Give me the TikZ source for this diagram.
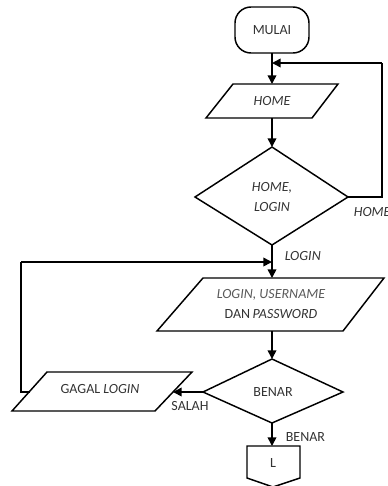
\documentclass[tikz,border=0pt]{standalone}
\usepackage{fontspec}
\setmainfont{Carlito}
\usetikzlibrary{arrows.meta}
\begin{document}
\begin{tikzpicture}[x=0.75pt,y=-0.75pt, line width=1.2pt,
  conn/.style={-{Triangle[length=6.5pt,width=6.5pt]}},
  shp/.style={draw, line width=1.1pt, line join=miter},
  lbl/.style={font=\fontsize{10.5}{12.5}\selectfont, text=black!80, inner sep=0pt, align=center}]
\useasboundingbox (0,0) rectangle (387,486);
% MULAI
\draw[shp, rounded corners=12pt] (235,7) rectangle (309,53);
\node[lbl] (mulai) at (272,30) {MULAI};
\coordinate (mulaiB) at (272,53);
% HOME parallelogram
\draw[shp] (233,84) -- (338,84) -- (312,118) -- (206,118) -- cycle;
\node[lbl] (home) at (272,101) {\itshape HOME};
\coordinate (homeT) at (272,84);
\coordinate (homeB) at (272,118);
% Diamond 1
\draw[shp] (272,147) -- (348,197) -- (272,245) -- (195,197) -- cycle;
\node[lbl] (d1) at (272,197) {\itshape HOME,\\[3pt]\itshape LOGIN};
\coordinate (d1T) at (272,147);
\coordinate (d1R) at (348,197);
\coordinate (d1B) at (272,245);
% loop back HOME
\coordinate (rc1) at (382,197);
\coordinate (rc2) at (382,63);
\coordinate (rin) at (272,63);
\draw (d1R) -- (rc1) -- (rc2);
\draw[conn] (rc2) -- (rin);
\node[lbl, anchor=west] (lhome) at (353,212) {\itshape HOME};
% LOGIN parallelogram
\draw[shp] (203,278) -- (384,278) -- (343,331) -- (157,331) -- cycle;
\node[lbl] (lp1) at (271,295) {\textcolor{black!65}{\itshape LOGIN, USERNAME}};
\node[lbl] (lp2) at (271,314) {DAN\,\itshape PASSWORD};
\coordinate (lpT) at (272,278);
\coordinate (lpB) at (272,331);
\node[lbl, anchor=west] (llogin) at (284,256) {\itshape LOGIN};
% Diamond 2
\draw[shp] (272,359) -- (343,392) -- (272,423) -- (203,392) -- cycle;
\node[lbl] (d2) at (273,392) {BENAR};
\coordinate (d2T) at (272,359);
\coordinate (d2L) at (203,392);
\coordinate (d2B) at (272,423);
% GAGAL LOGIN parallelogram
\draw[shp] (47,372) -- (192,372) -- (155,411) -- (12,411) -- cycle;
\node[lbl] (gagal) at (100,389) {GAGAL \itshape LOGIN};
\coordinate (gR) at (173,392);
\coordinate (gL) at (30,392);
\node[lbl] (lsalah) at (190,406) {SALAH};
% loop back from GAGAL
\coordinate (lc1) at (21,392);
\coordinate (lc2) at (21,262);
\coordinate (lin) at (272,262);
\draw (gL) -- (lc1) -- (lc2);
\draw[conn] (lc2) -- (lin);
% Off-page connector
\draw[shp] (247,446) -- (300,446) -- (300,478) -- (273,487) -- (247,478) -- cycle;
\node[lbl] (L) at (273,463) {L};
\coordinate (lT) at (272,446);
\node[lbl, anchor=west] (lbenar) at (285,437) {BENAR};
% connectors
\draw[conn] (mulaiB) -- (homeT);
\draw[conn] (homeB) -- (d1T);
\draw[conn] (d1B) -- (lpT);
\draw[conn] (lpB) -- (d2T);
\draw[conn] (d2L) -- (gR);
\draw[conn] (d2B) -- (lT);
\end{tikzpicture}
\end{document}
